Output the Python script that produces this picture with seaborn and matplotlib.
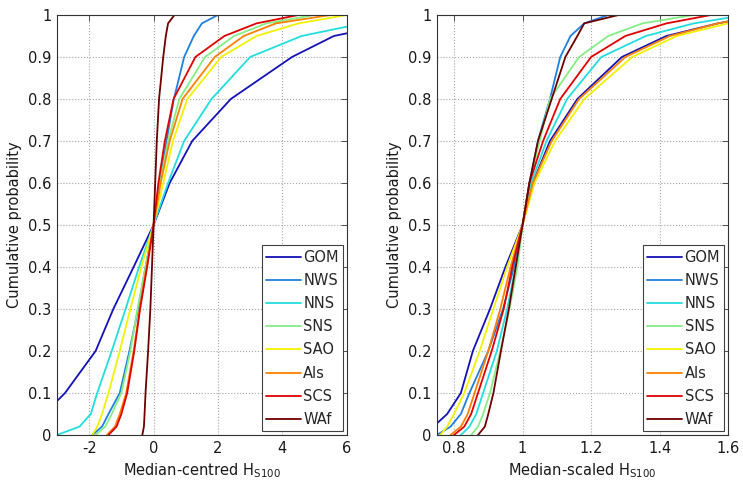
import numpy as np
import pandas as pd
import matplotlib
matplotlib.use("Agg")
import matplotlib.pyplot as plt
from matplotlib.ticker import FormatStrFormatter
import seaborn as sns

# ---------------- data ----------------
regions = ["GOM", "NWS", "NNS", "SNS", "SAO", "Als", "SCS", "WAf"]
colors = ["#1212b8", "#1f80e0", "#22dede", "#85ee85", "#f2f200", "#ff8000", "#e00000", "#6e0000"]

prob_levels = [0, 0.02, 0.05, 0.1, 0.2, 0.3, 0.4, 0.5, 0.6, 0.7, 0.8, 0.9, 0.95, 0.98, 1.0]

# Median-centred Hs100 at each cumulative probability level
centred_GOM = [-4.5, -4.0, -3.4, -2.75, -1.8, -1.25, -0.62, 0.0, 0.5, 1.2, 2.4, 4.3, 5.6, 7.5, 9.0]
centred_NWS = [-1.9, -1.6, -1.4, -1.05, -0.75, -0.48, -0.25, 0.0, 0.2, 0.4, 0.63, 0.95, 1.25, 1.5, 2.0]
centred_NNS = [-3.0, -2.3, -1.95, -1.75, -1.3, -0.87, -0.45, 0.0, 0.45, 0.95, 1.8, 3.0, 4.6, 6.5, 8.0]
centred_SNS = [-1.8, -1.5, -1.3, -1.0, -0.72, -0.5, -0.25, 0.0, 0.2, 0.45, 0.8, 1.6, 2.5, 3.5, 5.0]
centred_SAO = [-1.9, -1.75, -1.6, -1.4, -1.05, -0.72, -0.38, 0.0, 0.3, 0.6, 1.05, 2.1, 3.2, 4.5, 6.0]
centred_Als = [-1.45, -1.2, -1.05, -0.85, -0.62, -0.43, -0.22, 0.0, 0.22, 0.5, 0.9, 1.9, 2.8, 3.8, 5.5]
centred_SCS = [-1.4, -1.15, -1.0, -0.82, -0.6, -0.42, -0.2, 0.0, 0.15, 0.35, 0.62, 1.3, 2.2, 3.2, 4.5]
centred_WAf = [-0.35, -0.3, -0.28, -0.25, -0.17, -0.1, -0.05, 0.0, 0.05, 0.1, 0.17, 0.3, 0.38, 0.45, 0.65]

# Median-scaled Hs100 at each cumulative probability level
scaled_GOM = [0.70, 0.74, 0.78, 0.82, 0.855, 0.905, 0.95, 1.0, 1.03, 1.08, 1.16, 1.29, 1.42, 1.57, 1.70]
scaled_NWS = [0.75, 0.79, 0.82, 0.845, 0.90, 0.943, 0.975, 1.0, 1.02, 1.045, 1.08, 1.11, 1.14, 1.18, 1.25]
scaled_NNS = [0.82, 0.845, 0.865, 0.885, 0.925, 0.955, 0.98, 1.0, 1.025, 1.07, 1.13, 1.23, 1.36, 1.50, 1.65]
scaled_SNS = [0.85, 0.87, 0.885, 0.905, 0.935, 0.962, 0.985, 1.0, 1.02, 1.05, 1.08, 1.165, 1.25, 1.35, 1.50]
scaled_SAO = [0.76, 0.78, 0.80, 0.83, 0.875, 0.915, 0.955, 1.0, 1.035, 1.095, 1.18, 1.32, 1.45, 1.60, 1.75]
scaled_Als = [0.79, 0.82, 0.84, 0.86, 0.90, 0.935, 0.965, 1.0, 1.03, 1.085, 1.165, 1.30, 1.43, 1.57, 1.70]
scaled_SCS = [0.80, 0.83, 0.85, 0.87, 0.91, 0.945, 0.97, 1.0, 1.02, 1.06, 1.11, 1.20, 1.30, 1.42, 1.55]
scaled_WAf = [0.87, 0.89, 0.90, 0.915, 0.937, 0.96, 0.98, 1.0, 1.02, 1.045, 1.085, 1.125, 1.16, 1.18, 1.28]

centred = [centred_GOM, centred_NWS, centred_NNS, centred_SNS,
           centred_SAO, centred_Als, centred_SCS, centred_WAf]
scaled = [scaled_GOM, scaled_NWS, scaled_NNS, scaled_SNS,
          scaled_SAO, scaled_Als, scaled_SCS, scaled_WAf]

yticks = [0, 0.1, 0.2, 0.3, 0.4, 0.5, 0.6, 0.7, 0.8, 0.9, 1.0]
left_xticks = [-2, 0, 2, 4, 6]
right_xticks = [0.8, 1.0, 1.2, 1.4, 1.6]


def long_frame(series):
    rows = []
    for name, xs in zip(regions, series):
        for x, p in zip(xs, prob_levels):
            rows.append({"region": name, "x": x, "p": p})
    return pd.DataFrame(rows)


sns.set_theme(style="white")
plt.rcParams["font.family"] = ["DejaVu Sans"]
plt.rcParams["mathtext.fontset"] = "dejavusans"

fig = plt.figure(figsize=(7.43, 4.83), dpi=100)
ax1 = fig.add_axes([0.0767, 0.0994, 0.390, 0.8696])
ax2 = fig.add_axes([0.588, 0.0994, 0.392, 0.8696])

palette = dict(zip(regions, colors))

panels = [
    (ax1, long_frame(centred), (-3, 6), left_xticks, "Median-centred H$_{\\mathregular{S100}}$", "%g"),
    (ax2, long_frame(scaled), (0.75, 1.6), right_xticks, "Median-scaled H$_{\\mathregular{S100}}$", "%g"),
]

for ax, df, xlim, xt, xlabel, fmt in panels:
    sns.lineplot(data=df, x="x", y="p", hue="region", hue_order=regions,
                 palette=palette, sort=False, estimator=None, lw=1.3, ax=ax)
    ax.set_xlim(*xlim)
    ax.set_ylim(0, 1)
    ax.set_xticks(xt)
    ax.set_yticks(yticks)
    ax.xaxis.set_major_formatter(FormatStrFormatter(fmt))
    ax.yaxis.set_major_formatter(FormatStrFormatter("%g"))
    ax.grid(True, linestyle=":", color="0.65", lw=0.8)
    for s in ax.spines.values():
        s.set_visible(True)
        s.set_color("0.2")
        s.set_linewidth(0.8)
    ax.tick_params(direction="in", top=True, right=True, length=4, width=0.7,
                   color="0.3", labelsize=10.5, pad=4, labelcolor="0.1")
    ax.set_xlabel(xlabel, fontsize=10.5, color="0.1", labelpad=4)
    ax.set_ylabel("Cumulative probability", fontsize=10.5, color="0.1", labelpad=4)
    handles, labels = ax.get_legend_handles_labels()
    leg = ax.legend(handles, labels, loc="lower right", fontsize=10.5,
                    frameon=True, fancybox=False, framealpha=1, edgecolor="0.25",
                    handlelength=2.4, handletextpad=0.15, labelspacing=0.56,
                    borderpad=0.3, borderaxespad=0.25)
    leg.get_frame().set_linewidth(0.8)

fig.savefig("out.png", dpi=100)
